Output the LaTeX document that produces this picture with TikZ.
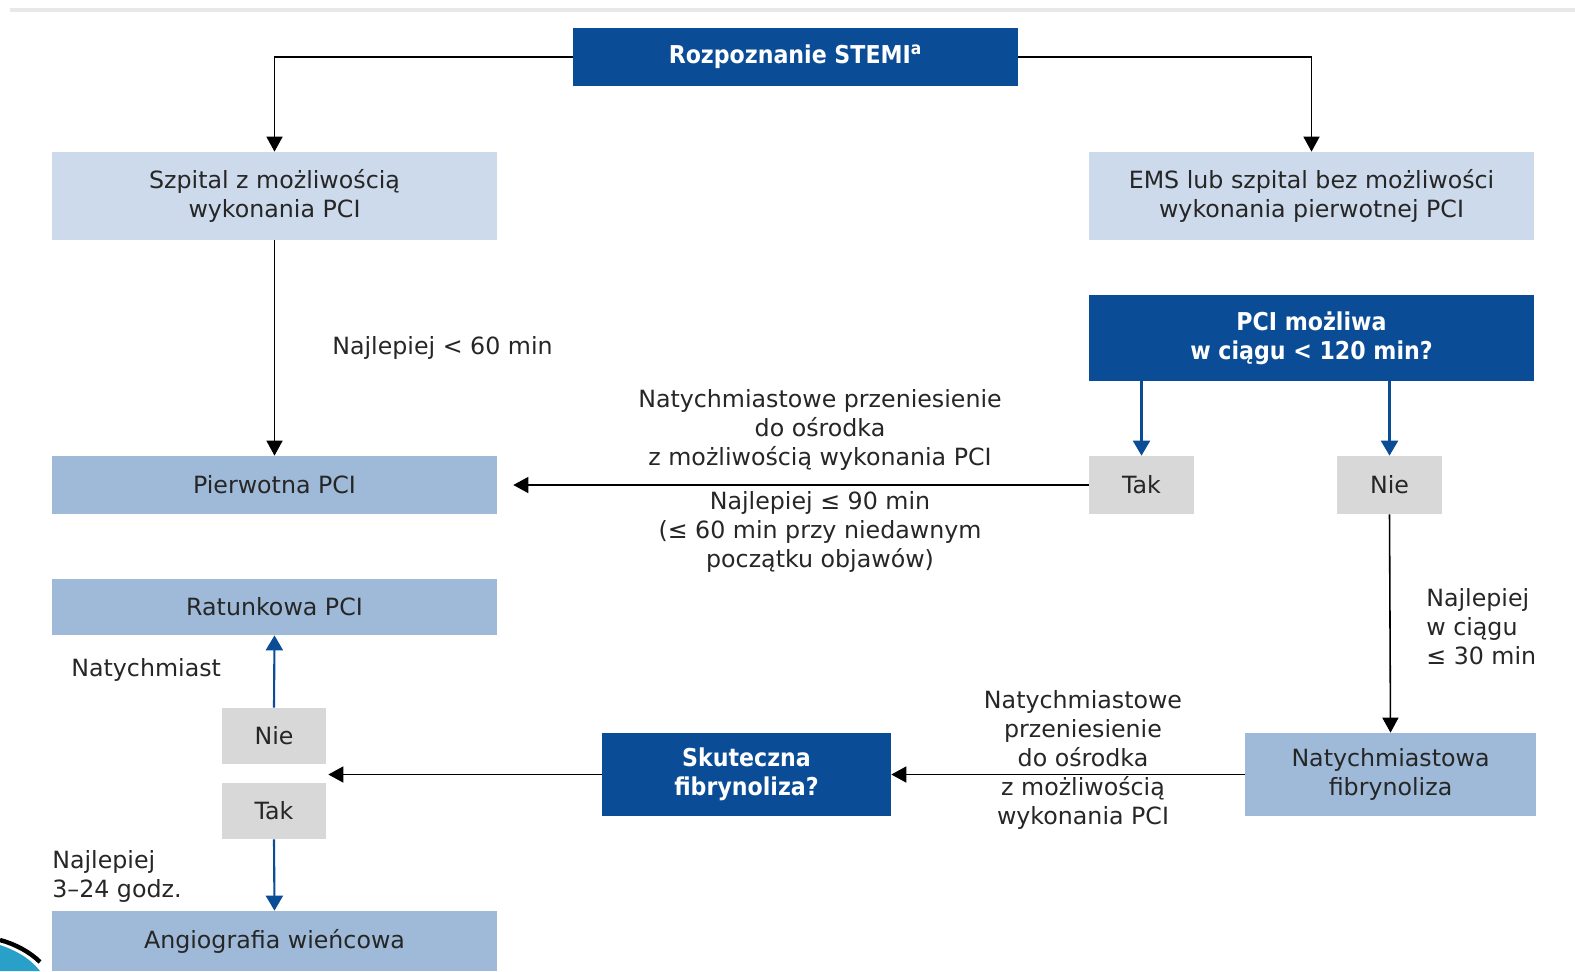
\documentclass[tikz,border=0pt]{standalone}
\usepackage{fontspec}
\setmainfont{DejaVu Sans}
\newfontfamily\condbold{DejaVu Sans Condensed}[BoldFont={DejaVu Sans Condensed Bold}]
\usepackage{tikz}
\usetikzlibrary{arrows.meta,positioning}

\definecolor{stemiblue}{RGB}{11,76,151}
\definecolor{paleblue}{RGB}{204,218,235}
\definecolor{midblue}{RGB}{158,186,216}
\definecolor{boxgray}{RGB}{216,216,216}
\definecolor{topline}{RGB}{232,232,232}
\definecolor{swoosh}{RGB}{40,160,200}

\begin{document}
\begin{tikzpicture}[
        x=0.02cm, y=-0.02cm,
        font=\fontsize{13.5}{16.5}\selectfont,
        box/.style={rectangle, inner sep=0pt, align=center, text=black!85, minimum width=8.9cm},
        pale/.style={box, fill=paleblue, minimum height=1.76cm},
        mid/.style={box, fill=midblue, minimum height=1.16cm},
        dark/.style={box, fill=stemiblue, text=white, font=\fontsize{14}{16.5}\condbold\bfseries},
        answer/.style={box, fill=boxgray, minimum width=2.1cm, minimum height=1.16cm},
        note/.style={align=center, inner sep=0pt, text=black!85},
        arr/.style={-{Triangle[length=0.3cm,width=0.32cm]}, line width=0.9pt, black},
        barr/.style={-{Triangle[length=0.3cm,width=0.34cm]}, line width=1.2pt, stemiblue}
    ]
        \useasboundingbox (0,0) rectangle (1575,971);
        \draw[topline, line width=2pt] (10,10) -- (1575,10);

        % left column
        \node[dark, minimum height=1.16cm] (stemi) at (795.5,57) {Rozpoznanie STEMI\textsuperscript{a}};
        \node[pale] (szpital) at (274.5,196) {Szpital z możliwością\\wykonania PCI};
        \node[mid] (pierwotna) at (274.5,485) {Pierwotna PCI};
        \node[mid, minimum height=1.12cm] (ratunkowa) at (274.5,607) {Ratunkowa PCI};
        \node[answer, minimum width=2.08cm, minimum height=1.12cm] (nie2) at (274,736) {Nie};
        \node[answer, minimum width=2.08cm, minimum height=1.12cm] (tak2) at (274,811) {Tak};
        \node[mid, minimum height=1.2cm] (angio) at (274.5,941) {Angiografia wieńcowa};

        % right column
        \node[pale] (ems) at (1311.5,196) {EMS lub szpital bez możliwości\\wykonania pierwotnej PCI};
        \node[dark, minimum height=1.72cm] (pcimoz) at (1311.5,338) {PCI możliwa\\w ciągu < 120 min?};
        \node[answer] (tak1) at (1141.5,485) {Tak};
        \node[answer] (nie1) at (1389.5,485) {Nie};
        \node[mid, minimum width=5.82cm, minimum height=1.66cm] (natfib) at (1390.5,774.5) {Natychmiastowa\\fibrynoliza};
        \node[dark, minimum width=5.78cm, minimum height=1.66cm] (skut) at (746.5,774.5) {Skuteczna\\fibrynoliza?};

        \coordinate (pciend) at ([xshift=0.32cm]pierwotna.east |- tak1.west);
        \coordinate (gap) at ([xshift=0.04cm]nie2.east |- skut.west);

        % connectors
        \draw[arr] (stemi.west) -| (szpital.north);
        \draw[arr] (stemi.east) -| (ems.north);
        \draw[arr] (szpital.south) -- (pierwotna.north);
        \draw[barr] (tak1.north |- pcimoz.south) -- (tak1.north);
        \draw[barr] (nie1.north |- pcimoz.south) -- (nie1.north);
        \draw[arr] (tak1.west) -- (pciend);
        \draw[arr] (nie1.south) -- (natfib.north);
        \draw[arr] (natfib.west) -- (skut.east);
        \draw[arr] (skut.west) -- (gap);
        \draw[barr] (nie2.north) -- (ratunkowa.south);
        \draw[barr] (tak2.south) -- (angio.north);

        % labels
        \node[note, anchor=west] (lab60) at (332,348) {Najlepiej < 60 min};
        \node[note] (labtrans) at (820,430) {Natychmiastowe przeniesienie\\do ośrodka\\z możliwością wykonania PCI};
        \node[note] (lab90) at (820,532) {Najlepiej ≤ 90 min\\(≤ 60 min przy niedawnym\\początku objawów)};
        \node[note, align=left, anchor=west] (lab30) at (1426,627) {Najlepiej\\w ciągu\\≤ 30 min};
        \node[note] (labtrans2) at (1083,760) {Natychmiastowe\\przeniesienie\\do ośrodka\\z możliwością\\wykonania PCI};
        \node[note, anchor=west] (labnow) at (71,670) {Natychmiast};
        \node[note, align=left, anchor=west] (lab324) at (52,876) {Najlepiej\\3–24 godz.};

        % slide corner
        \fill[swoosh] (0,945) .. controls (15,950) and (30,958) .. (40,971) -- (0,971) -- cycle;
        \draw[black, line width=2.5pt] (0,940) .. controls (15,944) and (30,952) .. (40,962);
    \end{tikzpicture}
\end{document}
